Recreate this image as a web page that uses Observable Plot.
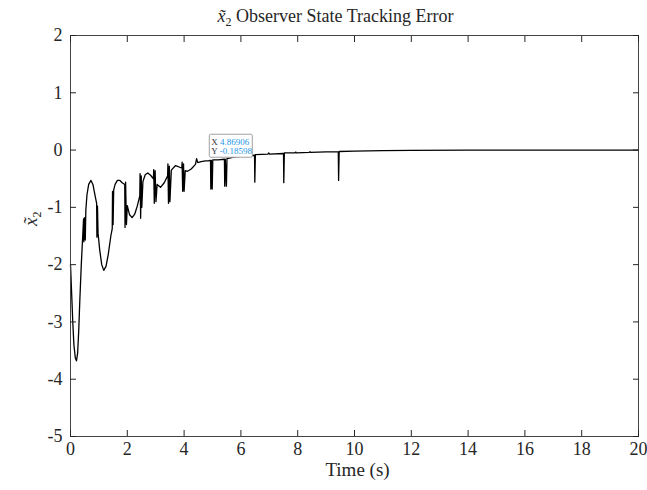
<!DOCTYPE html>
<html><head><meta charset="utf-8">
<script src="https://cdn.jsdelivr.net/npm/d3@7"></script>
<script src="https://cdn.jsdelivr.net/npm/@observablehq/plot@0.6"></script>
<style>body{margin:0;background:#fff} #chart{width:647px;height:490px}</style>
</head><body><div id="chart"></div>
<script>
const titleText = "Observer State Tracking Error";
const xLabel = "Time (s)";
const yLabelSub = "2";
const xTicks = [0, 2, 4, 6, 8, 10, 12, 14, 16, 18, 20];
const yTicks = [-5, -4, -3, -2, -1, 0, 1, 2];
const timeS = [0,0.04,0.08,0.12,0.17,0.21,0.25,0.29,0.33,0.38,0.43,0.46,0.47,0.49,0.52,0.54,0.58,0.64,0.72,0.79,0.86,0.92,0.93,0.95,0.97,1.03,1.1,1.17,1.25,1.33,1.42,1.47,1.48,1.5,1.52,1.57,1.65,1.74,1.82,1.91,1.92,1.94,1.97,2.0,2.08,2.17,2.26,2.35,2.44,2.45,2.47,2.49,2.51,2.55,2.63,2.72,2.82,2.92,2.93,2.95,2.98,3.01,3.05,3.17,3.3,3.42,3.43,3.45,3.48,3.5,3.55,3.7,3.85,3.92,3.93,3.95,3.98,4.0,4.04,4.12,4.25,4.4,4.44,4.48,4.6,4.75,4.87,4.93,4.94,4.96,4.99,5.01,5.2,5.42,5.43,5.45,5.49,5.51,5.8,6.2,6.48,6.49,6.51,6.95,6.98,7.01,7.5,7.51,7.53,7.9,7.93,7.96,8.4,8.43,8.46,9.0,9.43,9.44,9.46,10,11,12,14,20];
const errX2 = [-2.0,-2.5,-3.0,-3.4,-3.63,-3.68,-3.55,-3.15,-2.6,-2.0,-1.5,-1.2,-1.6,-1.18,-1.57,-1.05,-0.78,-0.6,-0.53,-0.6,-0.78,-0.93,-1.52,-0.98,-1.45,-1.75,-2.0,-2.1,-2.03,-1.82,-1.5,-1.37,-0.72,-1.3,-0.7,-0.6,-0.53,-0.53,-0.57,-0.6,-1.35,-0.56,-1.3,-0.97,-1.13,-1.18,-1.12,-0.98,-0.8,-0.41,-1.19,-0.45,-1.0,-0.55,-0.43,-0.4,-0.44,-0.5,-0.34,-0.93,-0.36,-0.9,-0.6,-0.65,-0.57,-0.45,-0.24,-0.93,-0.28,-0.9,-0.35,-0.27,-0.3,-0.31,-0.21,-0.72,-0.24,-0.72,-0.36,-0.37,-0.33,-0.25,-0.15,-0.22,-0.2,-0.19,-0.186,-0.18,-0.68,-0.18,-0.68,-0.17,-0.17,-0.16,-0.63,-0.16,-0.63,-0.15,-0.12,-0.1,-0.09,-0.56,-0.08,-0.07,-0.05,-0.07,-0.06,-0.57,-0.05,-0.05,-0.035,-0.05,-0.04,-0.03,-0.04,-0.03,-0.03,-0.53,-0.025,-0.02,-0.01,-0.004,0,0];
const tipX = 4.86906, tipY = -0.18598;
const tipLines = [["X", "4.86906"], ["Y", "-0.18598"]];

const data = timeS.map((t, i) => ({t, v: errX2[i]}));
const serif = "'Liberation Serif', 'Times New Roman', serif";
const fmt = d => String(d);

const chart = Plot.plot({
  width: 647, height: 490,
  marginLeft: 70, marginRight: 9, marginTop: 35, marginBottom: 54,
  style: {fontFamily: serif, fontSize: "18px", color: "#262626", background: "#fff"},
  x: {domain: [0, 20], label: null},
  y: {domain: [-5, 2], label: null},
  marks: [
    Plot.line(data, {x: "t", y: "v", stroke: "#000", strokeWidth: 1.3}),
    Plot.frame({stroke: "#444", strokeWidth: 1}),
    Plot.axisX(xTicks, {anchor: "bottom", tickSize: 0, tickPadding: 6, fontSize: 18, tickFormat: fmt, label: null}),
    Plot.axisX(xTicks, {anchor: "bottom", tickSize: -6, tickFormat: () => "", label: null}),
    Plot.axisX(xTicks, {anchor: "top", tickSize: -6, tickFormat: () => "", label: null}),
    Plot.axisY(yTicks, {anchor: "left", tickSize: 0, tickPadding: 8, fontSize: 18, tickFormat: fmt, label: null}),
    Plot.axisY(yTicks, {anchor: "left", tickSize: -6, tickFormat: () => "", label: null}),
    Plot.axisY(yTicks, {anchor: "right", tickSize: -6, tickFormat: () => "", label: null}),
    Plot.text([xLabel], {frameAnchor: "bottom", lineAnchor: "middle", dy: 33, dx: 3, fontSize: 19}),
    Plot.text([titleText], {frameAnchor: "top", lineAnchor: "middle", dy: -19, dx: -19, fontSize: 18}),
    Plot.text(["x" + yLabelSub], {frameAnchor: "left", lineAnchor: "middle", dx: -40, dy: -10, rotate: -90, fontSize: 19})
  ]
});
document.getElementById("chart").appendChild(chart);

const svg = d3.select(chart);
function texify(sel, rest) {
  sel.text(null);
  sel.append("tspan").attr("font-style", "italic").text("x\u0303");
  sel.append("tspan").attr("font-size", 12).attr("dy", 4).text(yLabelSub);
  if (rest) sel.append("tspan").attr("dy", -4).text(" " + rest);
}
svg.selectAll("text").each(function() {
  const s = d3.select(this);
  const c = this.textContent;
  if (c === titleText) texify(s, titleText);
  else if (c === "x" + yLabelSub) texify(s, null);
});

// datatip anchored at data point via scales
const px = chart.scale("x").apply(tipX);
const py = chart.scale("y").apply(tipY);
const g = svg.append("g").attr("transform", `translate(${px + 1},${py - 3})`);
g.append("rect").attr("x", 0).attr("y", -23).attr("width", 43).attr("height", 23)
  .attr("rx", 1.5).attr("fill", "#fff").attr("stroke", "#a0a0a0").attr("stroke-width", 1);
tipLines.forEach(([k, v], i) => {
  const t = g.append("text").attr("x", 2).attr("y", -12.5 + i * 9.5)
    .attr("text-anchor", "start").attr("font-family", serif).attr("font-size", 9);
  t.append("tspan").attr("fill", "#333").text(k + " ");
  t.append("tspan").attr("fill", "#1e96e6").text(v);
});
</script>
</body></html>
